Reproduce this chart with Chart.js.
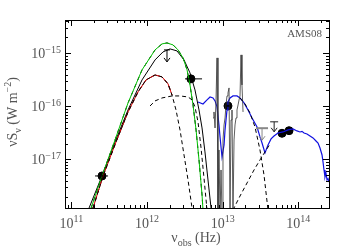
<!DOCTYPE html>
<html>
<head>
<meta charset="utf-8">
<script src="https://cdn.jsdelivr.net/npm/chart.js@4.4.1/dist/chart.umd.min.js"></script>
<style>
html, body { margin: 0; padding: 0; background: #fff; }
</style>
</head>
<body>
<canvas id="sed" width="350" height="250"></canvas>
<script>
// all values are log10(nu / Hz) and log10(nu S_nu / W m^-2)

// total model (green, with black dashes on top)
const greenNu = [11.26, 11.405, 11.577, 11.749, 11.934, 12.106, 12.198, 12.264, 12.344, 12.41, 12.476, 12.529, 12.568, 12.608, 12.648, 12.687, 12.727, 12.74];
const greenS  = [-17.92, -17.311, -16.632, -15.934, -15.311, -14.934, -14.821, -14.802, -14.84, -14.934, -15.085, -15.311, -15.594, -15.972, -16.443, -17.009, -17.67, -17.953];

// single greybody fit (solid black)
const blackNu = [11.234, 11.405, 11.577, 11.749, 11.934, 12.106, 12.211, 12.304, 12.396, 12.489, 12.568, 12.634, 12.687, 12.727, 12.766, 12.806, 12.846];
const blackS  = [-17.915, -17.311, -16.67, -16.066, -15.5, -15.123, -14.972, -14.915, -14.953, -15.123, -15.368, -15.689, -16.066, -16.406, -16.858, -17.387, -17.915];

// cold component (red, then dashed)
const coldNu = [11.286, 11.419, 11.59, 11.749, 11.881, 11.987, 12.106, 12.198, 12.278, 12.33, 12.383, 12.436, 12.489, 12.542, 12.595];
const coldS  = [-17.915, -17.311, -16.67, -16.104, -15.726, -15.5, -15.406, -15.443, -15.575, -15.783, -16.066, -16.443, -16.915, -17.387, -17.915];

// warm component (dashed)
const warmNu = [12.04, 12.106, 12.198, 12.33, 12.436, 12.542, 12.595, 12.634, 12.674, 12.714, 12.753, 12.793];
const warmS  = [-15.991, -15.896, -15.84, -15.802, -15.802, -15.821, -15.877, -16.009, -16.292, -16.783, -17.349, -17.953];

// hot dust (dashed, falling) and stellar/AGN rise (dashed)
const hotNu  = [13.229, 13.295, 13.361, 13.427, 13.493, 13.546, 13.599];
const hotS   = [-15.84, -15.953, -16.123, -16.387, -16.821, -17.292, -17.953];
const riseNu = [13.136, 13.229, 13.322, 13.414, 13.493, 13.559, 13.625];
const riseS  = [-17.953, -17.689, -17.443, -17.198, -17.009, -16.858, -16.708];

// template spectrum (blue)
const blueNu = [12.674, 12.74, 12.793, 12.833, 12.872, 12.899, 12.925, 12.951, 12.965, 12.991, 13.018, 13.031, 13.057, 13.07, 13.097, 13.136, 13.189, 13.229, 13.282, 13.335, 13.388, 13.454, 13.493, 13.52, 13.559, 13.599, 13.639, 13.678, 13.731, 13.797, 13.863, 13.929, 13.982, 14.022, 14.048, 14.075, 14.114, 14.154, 14.194, 14.233, 14.26, 14.286, 14.313, 14.326, 14.339, 14.352, 14.365, 14.379, 14.392, 14.405];
const blueS  = [-15.915, -15.953, -15.877, -15.821, -15.84, -15.896, -16.009, -16.349, -16.575, -16.953, -16.726, -16.443, -16.066, -15.915, -15.84, -15.802, -15.802, -15.84, -15.934, -16.066, -16.217, -16.387, -16.575, -16.689, -16.877, -16.726, -16.613, -16.557, -16.5, -16.481, -16.443, -16.425, -16.462, -16.481, -16.47, -16.5, -16.519, -16.557, -16.594, -16.651, -16.689, -16.783, -16.915, -17.047, -17.198, -17.33, -17.26, -17.387, -17.36, -17.425];

// mid-IR spectrum (black, spiky)
const irsNu = [12.872, 12.885, 12.899, 12.912, 12.925, 12.938, 12.951, 12.965, 12.978, 12.991, 13.004, 13.018, 13.031, 13.044, 13.057, 13.07, 13.084, 13.097, 13.11, 13.123, 13.136, 13.15, 13.163, 13.176, 13.189, 13.203, 13.216, 13.229, 13.242, 13.255, 13.269];
const irsS  = [-16.217, -16.104, -16.406, -15.877, -15.085, -18.05, -16.821, -18.05, -17.198, -18.05, -16.632, -16.349, -16.217, -15.972, -15.802, -15.745, -15.651, -18.05, -16.255, -16.066, -18.05, -16.632, -16.349, -16.217, -16.066, -15.972, -15.877, -15.802, -15.028, -15.594, -16.104];

// photometry with error bars
const photNu   = [11.405, 12.58, 13.07, 13.784, 13.877];
const photS    = [-17.311, -15.48, -15.99, -16.506, -16.457];
const photNuLo = [11.313, 12.502, 13.05, 13.784, 13.877];
const photNuHi = [11.485, 12.727, 13.09, 13.784, 13.877];
const photSLo  = [-17.387, -15.557, -16.01, -16.506, -16.457];
const photSHi  = [-17.236, -15.406, -15.97, -16.506, -16.457];

// upper limits
const ulNu = [12.264, 13.52, 13.68];
const ulS  = [-14.934, -16.41, -16.29];

// axis range (log10)
const xMin = 10.916, xMax = 14.405;
const yMin = -17.915, yMax = -14.37;

const xDecades = [11, 12, 13, 14];
const yDecades = [-17, -16, -15];

const FONT = '"Liberation Serif", "DejaVu Serif", serif';
const TXT = '#555';

function pts(nu, s) {
    return nu.map((v, i) => ({x: Math.pow(10, v), y: Math.pow(10, s[i])}));
}

function line(data, color, dash, width) {
    return {
        data: data,
        showLine: true,
        borderColor: color,
        borderWidth: width || 1,
        borderDash: dash || [],
        pointRadius: 0,
        fill: false,
        tension: 0,
        clip: 0
    };
}

// draw text made of runs: [text, 'n' | 'sup' | 'sub']
function runs(ctx, parts, size, x, y, align) {
    const small = Math.round(size * 0.68);
    let w = 0;
    parts.forEach(p => {
        ctx.font = (p[1] === 'n' ? size : small) + 'px ' + FONT;
        w += ctx.measureText(p[0]).width;
    });
    let cx = x;
    if (align === 'right') cx = x - w;
    else if (align === 'center') cx = x - w / 2;
    ctx.textBaseline = 'alphabetic';
    ctx.textAlign = 'left';
    parts.forEach(p => {
        ctx.font = (p[1] === 'n' ? size : small) + 'px ' + FONT;
        let dy = 0;
        if (p[1] === 'sup') dy = -size * 0.42;
        if (p[1] === 'sub') dy = size * 0.25;
        ctx.fillText(p[0], cx, y + dy);
        cx += ctx.measureText(p[0]).width;
    });
}

function expStr(n) {
    return n < 0 ? '\u2212' + (-n) : String(n);
}

const framePlugin = {
    id: 'frame',
    afterDatasetsDraw(chart) {
        const ctx = chart.ctx;
        const xs = chart.scales.x, ys = chart.scales.y;
        ctx.save();
        ctx.strokeStyle = '#000';
        ctx.lineWidth = 1;
        // error bars
        photNu.forEach((v, i) => {
            const px = xs.getPixelForValue(Math.pow(10, v));
            const py = ys.getPixelForValue(Math.pow(10, photS[i]));
            ctx.beginPath();
            ctx.moveTo(xs.getPixelForValue(Math.pow(10, photNuLo[i])), py);
            ctx.lineTo(xs.getPixelForValue(Math.pow(10, photNuHi[i])), py);
            ctx.moveTo(px, ys.getPixelForValue(Math.pow(10, photSLo[i])));
            ctx.lineTo(px, ys.getPixelForValue(Math.pow(10, photSHi[i])));
            ctx.stroke();
        });
        // upper limits
        const ulStyle = [
            {color: '#000', half: 3, len: 12, width: 1},
            {color: '#888', half: 6, len: 12, width: 2},
            {color: '#222', half: 4, len: 10, width: 1}
        ];
        ulNu.forEach((v, i) => {
            const st = ulStyle[i];
            const px = xs.getPixelForValue(Math.pow(10, v));
            const py = ys.getPixelForValue(Math.pow(10, ulS[i]));
            ctx.strokeStyle = st.color;
            ctx.lineWidth = st.width;
            ctx.beginPath();
            ctx.moveTo(px - st.half, py);
            ctx.lineTo(px + st.half, py);
            ctx.stroke();
            ctx.lineWidth = 1;
            ctx.beginPath();
            ctx.moveTo(px, py);
            ctx.lineTo(px, py + st.len);
            ctx.moveTo(px - 3, py + st.len - 4);
            ctx.lineTo(px, py + st.len);
            ctx.lineTo(px + 3, py + st.len - 4);
            ctx.stroke();
        });
        ctx.restore();
    },
    afterDraw(chart) {
        const ctx = chart.ctx;
        const a = chart.chartArea;
        const xs = chart.scales.x, ys = chart.scales.y;
        ctx.save();
        ctx.strokeStyle = '#000';
        ctx.lineWidth = 1;
        ctx.strokeRect(a.left + 0.5, a.top + 0.5, a.right - a.left, a.bottom - a.top);

        // inward ticks on all four sides
        ctx.beginPath();
        for (let d = 10; d <= 14; d++) {
            for (let k = 1; k <= 9; k++) {
                const lv = d + Math.log10(k);
                if (lv < xMin || lv > xMax) continue;
                const px = Math.round(xs.getPixelForValue(Math.pow(10, lv))) + 0.5;
                const len = k === 1 ? 6 : 3;
                ctx.moveTo(px, a.bottom); ctx.lineTo(px, a.bottom - len);
                ctx.moveTo(px, a.top); ctx.lineTo(px, a.top + len);
            }
        }
        for (let d = -18; d <= -15; d++) {
            for (let k = 1; k <= 9; k++) {
                const lv = d + Math.log10(k);
                if (lv < yMin || lv > yMax) continue;
                const py = Math.round(ys.getPixelForValue(Math.pow(10, lv))) + 0.5;
                const len = k === 1 ? 6 : 3;
                ctx.moveTo(a.left, py); ctx.lineTo(a.left + len, py);
                ctx.moveTo(a.right, py); ctx.lineTo(a.right - len, py);
            }
        }
        ctx.stroke();

        // tick labels
        ctx.fillStyle = TXT;
        xDecades.forEach(d => {
            const px = xs.getPixelForValue(Math.pow(10, d));
            runs(ctx, [['10', 'n'], [expStr(d), 'sup']], 14, px, a.bottom + 20, 'center');
        });
        yDecades.forEach(d => {
            const py = ys.getPixelForValue(Math.pow(10, d));
            runs(ctx, [['10', 'n'], [expStr(d), 'sup']], 14, a.left - 4, py + 5, 'right');
        });

        // axis titles
        runs(ctx, [['\u03bd', 'n'], ['obs', 'sub'], [' (Hz)', 'n']], 14, 196, 242, 'center');
        ctx.save();
        ctx.translate(17, 112);
        ctx.rotate(-Math.PI / 2);
        runs(ctx, [['\u03bdS', 'n'], ['\u03bd', 'sub'], [' (W m', 'n'], ['\u22122', 'sup'], [')', 'n']], 14, 0, 0, 'center');
        ctx.restore();

        // label
        ctx.font = '11px ' + FONT;
        ctx.textAlign = 'right';
        ctx.textBaseline = 'middle';
        ctx.fillText('AMS08', a.right - 7, a.top + 14);
        ctx.restore();
    }
};

const datasets = [
    line(pts(warmNu, warmS), '#000', [4, 3]),
    line(pts(hotNu, hotS), '#000', [4, 3]),
    line(pts(riseNu, riseS), '#000', [4, 3]),
    line(pts(coldNu, coldS), '#000', [4, 3]),
    line(pts(coldNu.slice(0, 10), coldS.slice(0, 10)), '#e00000'),
    line(pts(coldNu.slice(0, 10), coldS.slice(0, 10)), '#000', [4, 4]),
    line(pts(greenNu, greenS), '#00c000'),
    line(pts(greenNu, greenS), '#000', [4, 4]),
    line(pts(blackNu, blackS), '#000'),
    line(pts(irsNu, irsS), '#333', [], 0.8),
    line(pts(blueNu, blueS), '#1010e0', [], 1.2),
    {
        data: pts(photNu, photS),
        showLine: false,
        pointRadius: 4,
        pointBackgroundColor: '#000',
        pointBorderColor: '#000',
        clip: 0
    }
];

new Chart(document.getElementById('sed'), {
    type: 'scatter',
    data: {datasets: datasets},
    options: {
        responsive: false,
        animation: false,
        devicePixelRatio: 1,
        layout: {padding: {top: 20, right: 21, left: 0, bottom: 0}},
        plugins: {legend: {display: false}, tooltip: {enabled: false}},
        scales: {
            x: {
                type: 'logarithmic',
                min: Math.pow(10, xMin),
                max: Math.pow(10, xMax),
                grid: {display: false},
                border: {display: false},
                ticks: {display: false},
                afterFit(s) { s.height = 42; }
            },
            y: {
                type: 'logarithmic',
                min: Math.pow(10, yMin),
                max: Math.pow(10, yMax),
                grid: {display: false},
                border: {display: false},
                ticks: {display: false},
                afterFit(s) { s.width = 65; }
            }
        }
    },
    plugins: [framePlugin]
});
</script>
</body>
</html>
